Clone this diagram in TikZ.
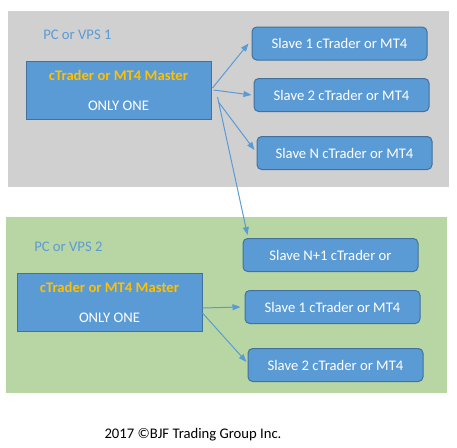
\documentclass[tikz,border=0pt]{standalone}
\usepackage{fontspec}
\setmainfont{Carlito}
\usetikzlibrary{arrows.meta,calc}
\definecolor{PanelGray}{HTML}{D0D0D0}
\definecolor{PanelGreen}{HTML}{B8D6A4}
\definecolor{BoxBlue}{HTML}{5B9BD5}
\definecolor{BoxEdge}{HTML}{41719C}
\definecolor{MasterGold}{HTML}{FFC000}

\begin{document}
\begin{tikzpicture}[
	x=0.75pt, y=-0.75pt, % one unit is one pixel, y runs downwards
	font=\fontsize{11}{13.5}\selectfont,
	% Style for the master terminal boxes
	master node/.style={
		rectangle,
		draw=BoxEdge,         % Border color
		fill=BoxBlue,         % Inner color
		line width=0.75pt,
		minimum width=138.75pt,
		minimum height=43.5pt,
		inner sep=0pt,
		align=center,
		text=white
	},
	% Style for the slave terminal boxes
	slave node/.style={
		rectangle,
		rounded corners=3.5pt,
		draw=BoxEdge,
		fill=BoxBlue,
		line width=0.75pt,
		minimum width=131.25pt,
		minimum height=24.75pt,
		inner sep=0pt,
		text=white
	},
	% Style for the PC / VPS captions
	panel label/.style={
		text=BoxBlue,
		anchor=west,
		inner sep=0pt
	},
	% Style for the copy arrows
	link/.style={
		draw=BoxBlue,
		line width=0.75pt,
		-{Triangle[length=6pt,width=4.5pt]}
	}
	]
	
	\useasboundingbox (0,0) rectangle (457,447);
	
	% 1. Panels for the two computers
	\fill[PanelGray]  (8,11)  rectangle (449,187);
	\fill[PanelGreen] (6,217) rectangle (447,393);
	
	\node[panel label] (pc1) at (43,35)  {PC or VPS 1};
	\node[panel label] (pc2) at (34,247) {PC or VPS 2};
	
	% 2. Masters
	\node[master node] (m1) at (118.5,90)
		{\textcolor{MasterGold}{\bfseries cTrader or MT4 Master}\\[9pt]ONLY ONE};
	\node[master node] (m2) at (109.5,302)
		{\textcolor{MasterGold}{\bfseries cTrader or MT4 Master}\\[9pt]ONLY ONE};
	
	% 3. Slaves of the first master
	\node[slave node] (s1_1) at (339.5,43.5) {Slave 1 cTrader or MT4};
	\node[slave node] (s1_2) at (341.5,95)   {Slave 2 cTrader or MT4};
	\node[slave node] (s1_n) at (344.5,153)  {Slave N cTrader or MT4};
	
	% Slaves of the second master
	\node[slave node] (s2_0) at (330.5,255)  {Slave N+1 cTrader or};
	\node[slave node] (s2_1) at (332.5,307)  {Slave 1 cTrader or MT4};
	\node[slave node] (s2_2) at (335.5,365)  {Slave 2 cTrader or MT4};
	
	% 4. Arrows
	% Arrows from the first master
	\draw[link] ($(m1.east)+(1,-2)$) -- ($(s1_1.west)+(-3,0)$);
	\draw[link] ($(m1.east)+(2,0)$)  -- ($(s1_2.west)+(-2,0)$);
	\draw[link] ($(m1.east)+(7,12)$) -- ($(s1_n.west)+(-2,-3)$);
	\draw[link] ($(m1.east)+(6,7)$)  -- ($(s2_0.north west)+(5,-3)$);
	
	% Arrows from the second master
	\draw[link] ($(m2.east)+(0,6)$)  -- ($(s2_1.west)+(-4,0)$);
	\draw[link] ($(m2.east)+(0,11)$) -- ($(s2_2.west)+(-1,-3)$);
	
	% 5. Footer
	\node (copy) at (193,435) {2017 ©BJF Trading Group Inc.};
	
\end{tikzpicture}
\end{document}
